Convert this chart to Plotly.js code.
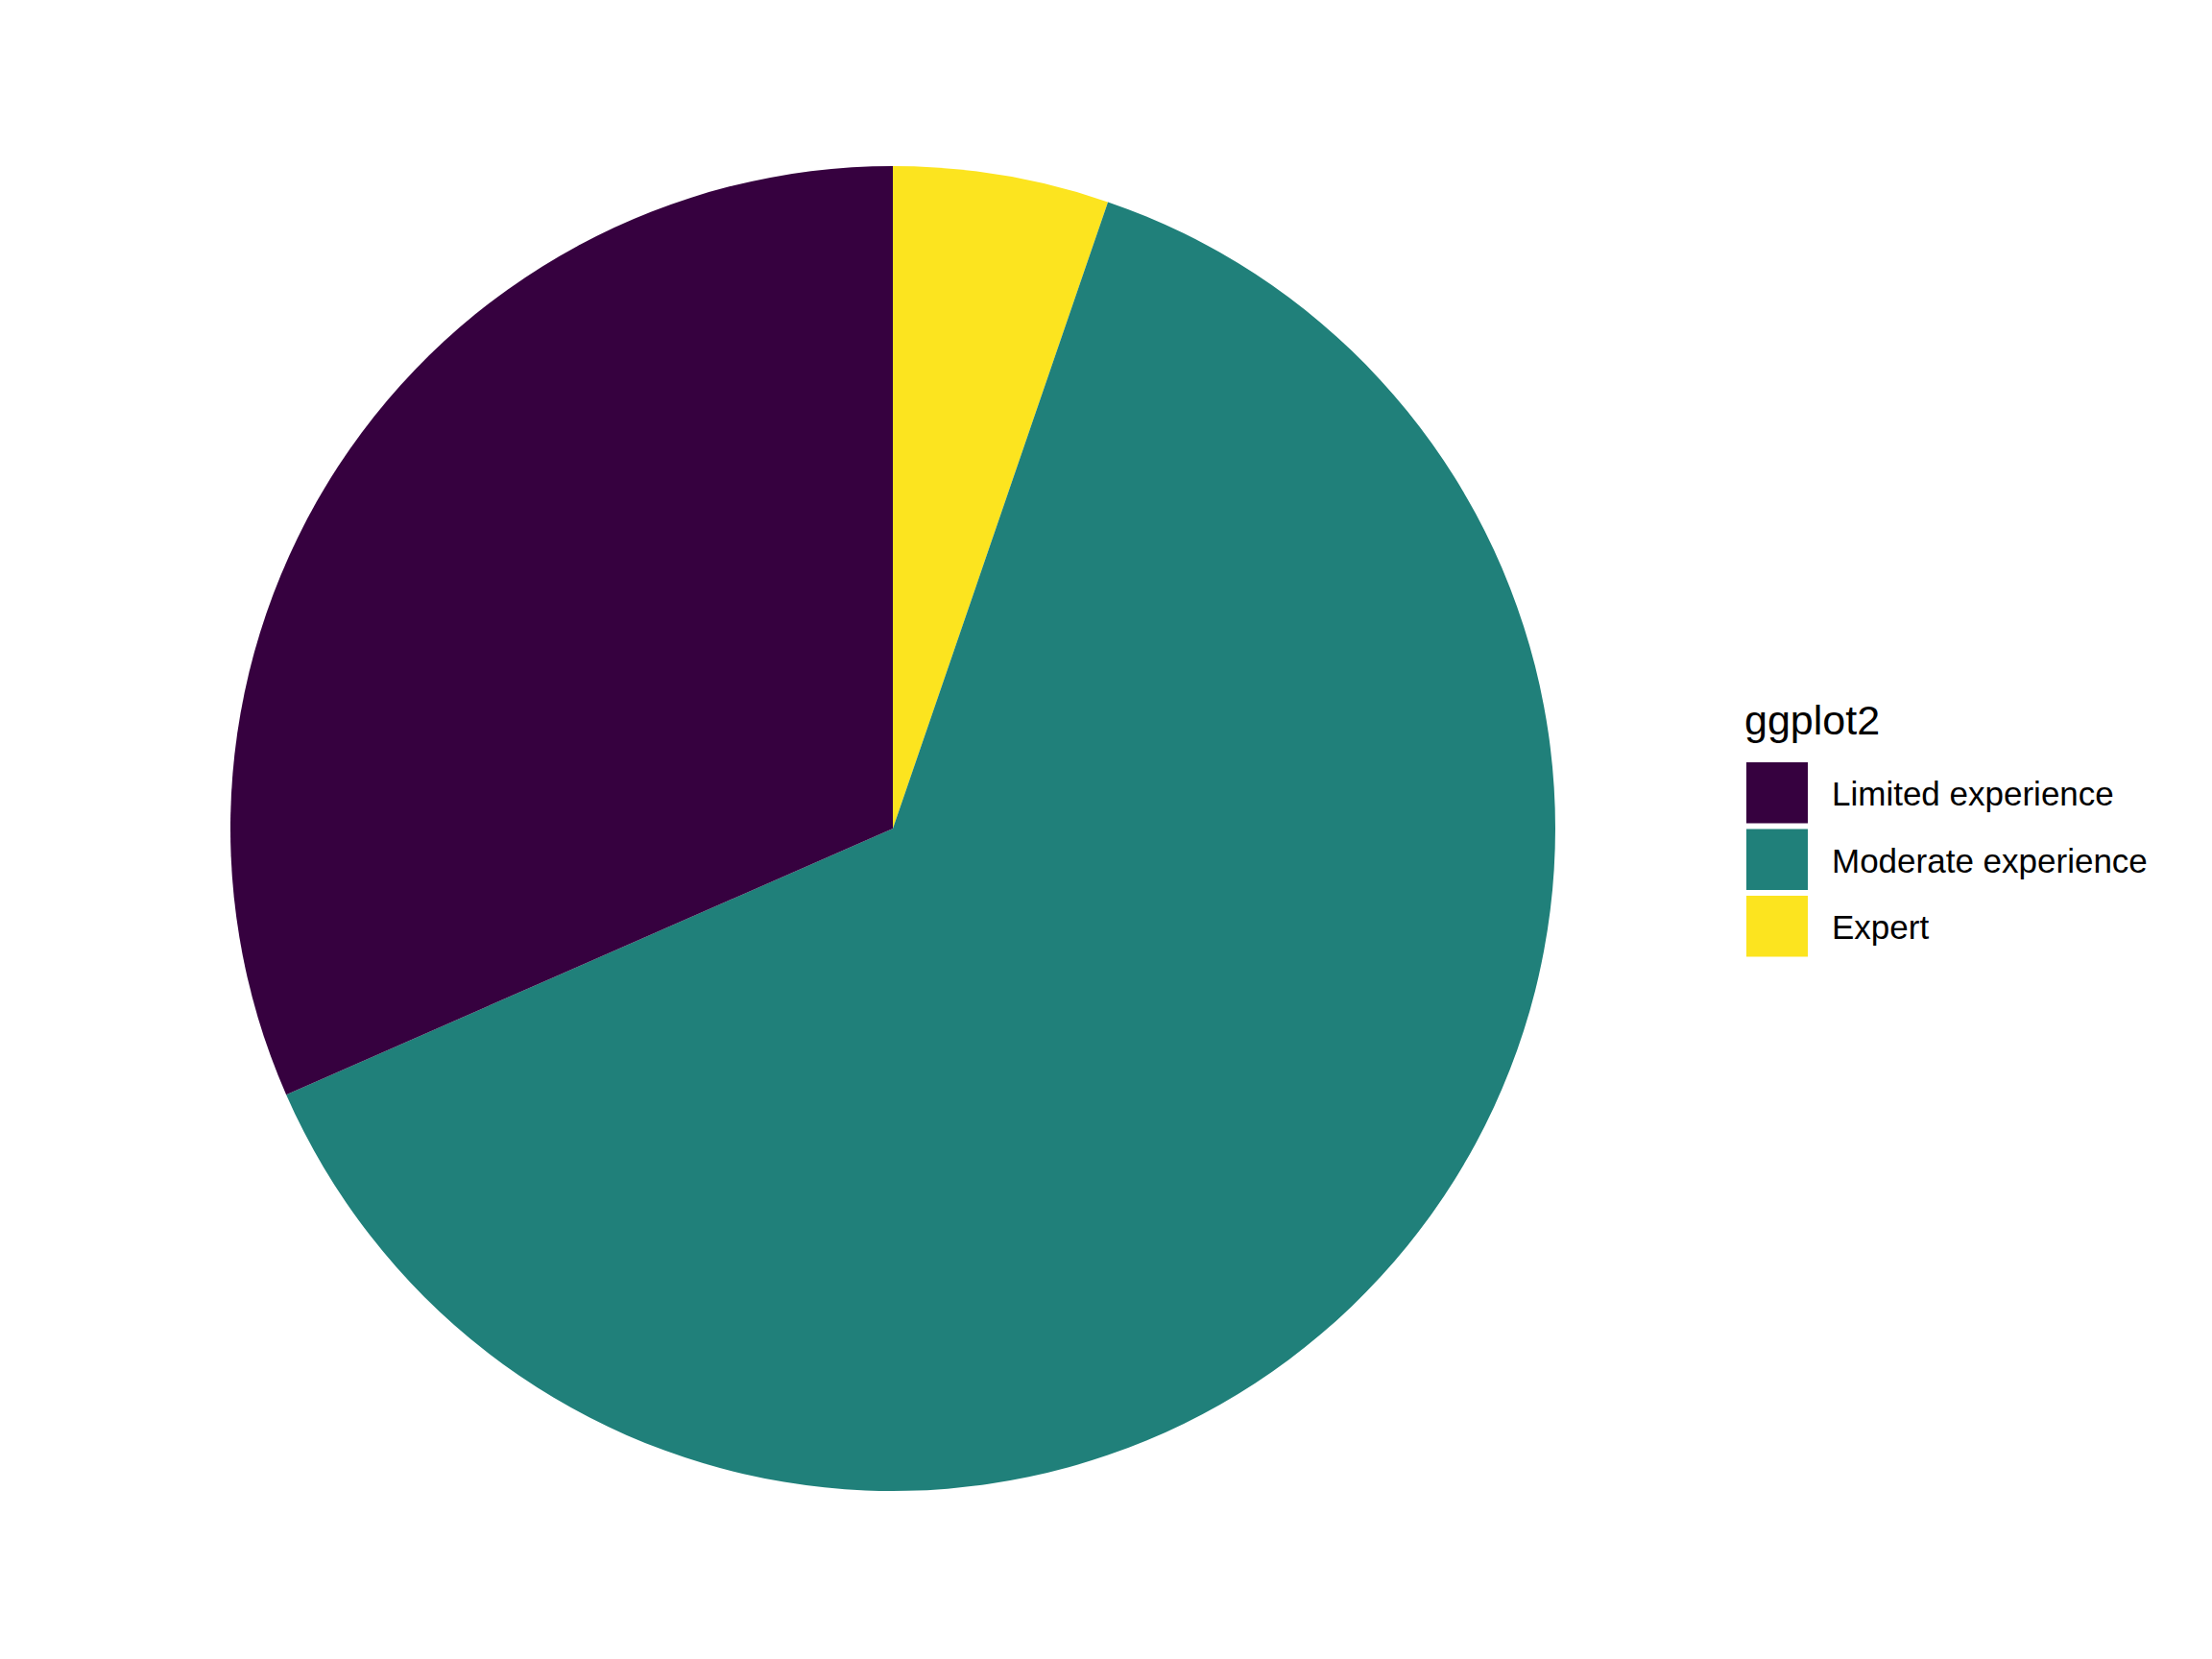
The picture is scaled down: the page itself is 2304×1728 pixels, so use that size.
<!DOCTYPE html>
<html>
<head>
<meta charset="utf-8">
<script src="https://cdn.plot.ly/plotly-3.0.1.min.js"></script>
<style>html,body{margin:0;padding:0;background:#fff;}#chart{width:2304px;height:1728px;}</style>
</head>
<body>
<div id="chart"></div>
<script>
// Data (legend order)
const categories = ["Limited experience", "Moderate experience", "Expert"];
const counts = [6, 12, 1];
const colors = ["#36013F", "#20807A", "#FCE41F"];
const legendTitle = "ggplot2";

const W = 2304, H = 1728;
const px = x => x / W;
const py = y => 1 - y / H;

// ggplot stacks the last level first, going clockwise from 12 o'clock
const trace = {
  type: "pie",
  labels: categories.slice().reverse(),
  values: counts.slice().reverse(),
  sort: false,
  direction: "clockwise",
  rotation: 0,
  textinfo: "none",
  hoverinfo: "label+value",
  marker: { colors: colors.slice().reverse(), line: { width: 0 } },
  domain: { x: [px(240), px(1620)], y: [py(1553), py(173)] },
  showlegend: false
};

// Legend drawn as shapes/annotations from the arrays
const keyLeft = 1819, keyRight = 1883, keyTop0 = 794, keyStep = 69.5, keySize = 63.5;
const shapes = [];
const annotations = [{
  text: legendTitle, xref: "paper", yref: "paper",
  x: px(1815), y: py(750), xanchor: "left", yanchor: "middle",
  showarrow: false, font: { family: "Liberation Sans, Arial, sans-serif", size: 43, color: "#000" }
}];
categories.forEach((c, i) => {
  const t = keyTop0 + i * keyStep;
  shapes.push({
    type: "rect", xref: "paper", yref: "paper",
    x0: px(keyLeft), x1: px(keyRight), y0: py(t + keySize), y1: py(t),
    fillcolor: colors[i], line: { width: 0 }
  });
  annotations.push({
    text: c, xref: "paper", yref: "paper",
    x: px(1906), y: py(t + keySize / 2 + 1), xanchor: "left", yanchor: "middle",
    showarrow: false, font: { family: "Liberation Sans, Arial, sans-serif", size: 35, color: "#000" }
  });
});

const layout = {
  width: W, height: H,
  margin: { l: 0, r: 0, t: 0, b: 0 },
  paper_bgcolor: "#fff", plot_bgcolor: "#fff",
  showlegend: false,
  shapes: shapes,
  annotations: annotations,
  font: { family: "Liberation Sans, Arial, sans-serif" }
};

Plotly.newPlot("chart", [trace], layout, { displayModeBar: false, staticPlot: true });
</script>
</body>
</html>
